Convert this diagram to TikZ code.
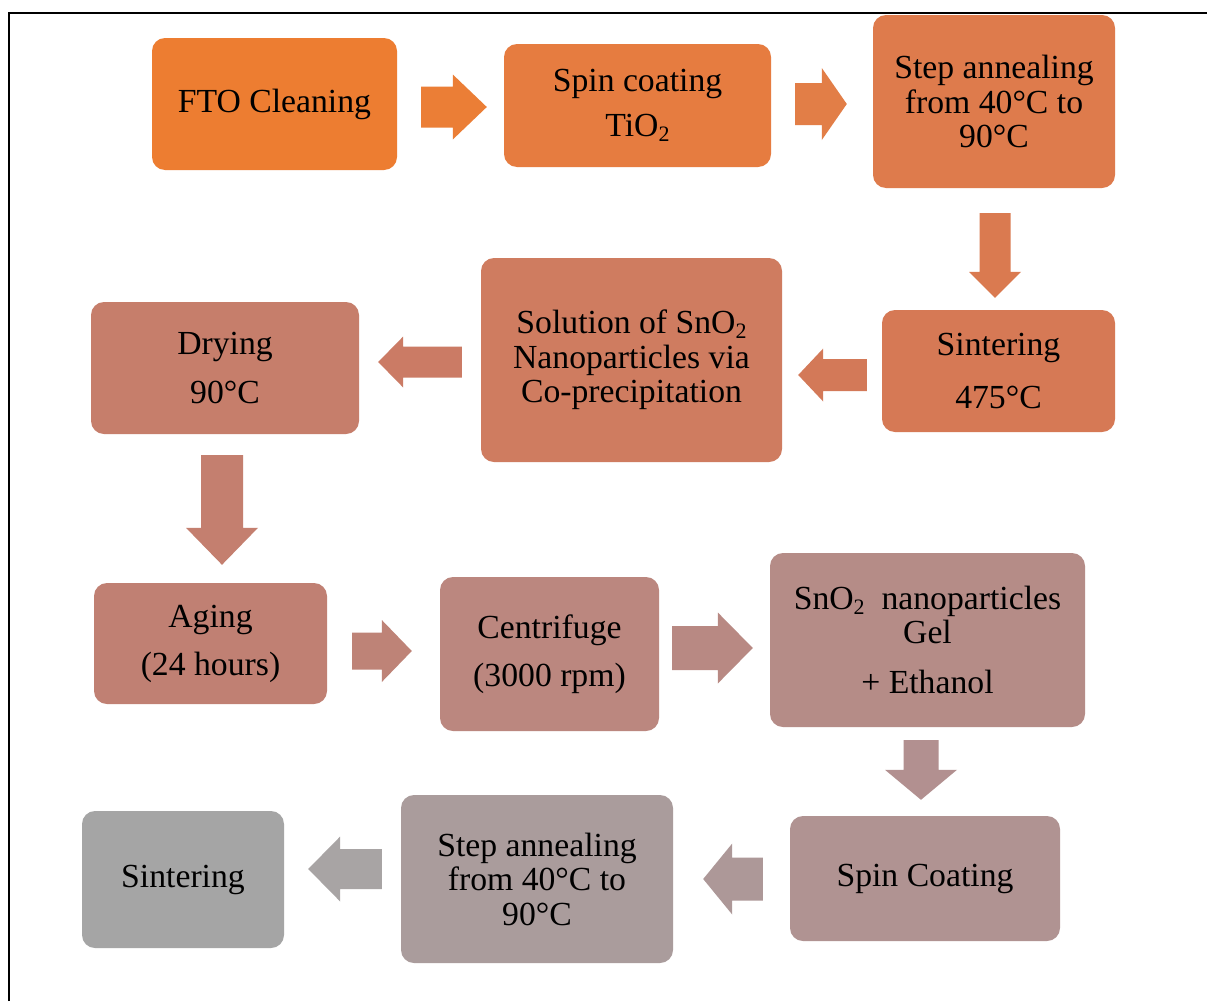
\documentclass[tikz,border=0pt]{standalone}
\usepackage{fontspec}
\setmainfont{Liberation Serif}
\usetikzlibrary{calc}

% step colours, orange fading to grey
\definecolor{c01}{HTML}{ED7D31}
\definecolor{c02}{HTML}{E67C40}
\definecolor{c03}{HTML}{DE7B4C}
\definecolor{c04}{HTML}{D67955}
\definecolor{c05}{HTML}{CF7C60}
\definecolor{c06}{HTML}{C67E6B}
\definecolor{c07}{HTML}{C08073}
\definecolor{c08}{HTML}{BB877F}
\definecolor{c09}{HTML}{B58C87}
\definecolor{c10}{HTML}{B09392}
\definecolor{c11}{HTML}{AA9C9C}
\definecolor{c12}{HTML}{A5A5A5}
% arrow colours
\definecolor{a01}{HTML}{EB7E36}
\definecolor{a02}{HTML}{E27E47}
\definecolor{a03}{HTML}{DA7A50}
\definecolor{a04}{HTML}{D37958}
\definecolor{a05}{HTML}{CB7B65}
\definecolor{a06}{HTML}{C47F6F}
\definecolor{a07}{HTML}{BE8377}
\definecolor{a08}{HTML}{B88983}
\definecolor{a09}{HTML}{B29090}
\definecolor{a10}{HTML}{AD9898}
\definecolor{a11}{HTML}{A8A4A4}

% chemical subscript
\newcommand\chemsubtwo{\raisebox{-0.14em}{\fontsize{22}{22}\selectfont 2}}

% block arrow: tail, tip, half shaft, half head, head length, colour
\newcommand\blockarrow[6]{%
  \coordinate (ba-t) at #1;
  \coordinate (ba-p) at #2;
  \coordinate (ba-h) at ($(ba-p)!#5pt!(ba-t)$);
  \fill[#6] ($(ba-t)!#3pt!90:(ba-p)$) -- ($(ba-h)!#3pt!90:(ba-p)$)
     -- ($(ba-h)!#4pt!90:(ba-p)$) -- (ba-p) -- ($(ba-h)!#4pt!-90:(ba-p)$)
     -- ($(ba-h)!#3pt!-90:(ba-p)$) -- ($(ba-t)!#3pt!-90:(ba-p)$) -- cycle;}

\tikzset{
  stepbox/.style={rounded corners=13pt, inner sep=0pt, align=center,
    font=\fontsize{33.7}{34.5}\selectfont, text=black},
}

\begin{document}
\begin{tikzpicture}[x=1pt,y=-1pt]
\useasboundingbox (0,0) rectangle (1207,1001);
\fill[white] (0,0) rectangle (1207,1001);
\draw[line width=2pt] (9,1001) -- (9,13) -- (1207,13);

% row 1
\node[stepbox, fill=c01, minimum width=245pt, minimum height=132pt] (fto) at (274.5,104) {FTO Cleaning};
\node[stepbox, fill=c02, minimum width=267pt, minimum height=123pt] (spin) at (637.5,105.5) {Spin coating\\[10.5pt]TiO\chemsubtwo};
\node[stepbox, fill=c03, minimum width=242pt, minimum height=173pt] (anneal) at (994,101.5) {Step annealing\\from 40°C to\\90°C};
% row 2
\node[stepbox, fill=c04, minimum width=233pt, minimum height=122pt] (sinter) at (998.5,371) {Sintering\\[18.5pt]475°C};
\node[stepbox, fill=c05, minimum width=301pt, minimum height=204pt] (sol) at (631.5,360) {Solution of SnO\chemsubtwo\\Nanoparticles via\\Co-precipitation};
\node[stepbox, fill=c06, minimum width=268pt, minimum height=132pt] (dry) at (225,368) {Drying\\[14.5pt]90°C};
% row 3
\node[stepbox, fill=c07, minimum width=233pt, minimum height=121pt] (aging) at (210.5,643.5) {Aging\\[13.5pt](24 hours)};
\node[stepbox, fill=c08, minimum width=219pt, minimum height=154pt] (cent) at (549.5,654) {Centrifuge\\[13.5pt](3000 rpm)};
\node[stepbox, fill=c09, minimum width=315pt, minimum height=174pt] (gel) at (927.5,640) {SnO\chemsubtwo\ \ nanoparticles\\Gel\\[15.5pt]+ Ethanol};
% row 4
\node[stepbox, fill=c10, minimum width=270pt, minimum height=125pt] (spinc) at (925,878.5) {Spin Coating};
\node[stepbox, fill=c11, minimum width=272pt, minimum height=168pt] (anneal2) at (537,879) {Step annealing\\from 40°C to\\90°C};
\node[stepbox, fill=c12, minimum width=202pt, minimum height=137pt] (sinter2) at (183,879.5) {Sintering};

% flow arrows
\blockarrow{($(fto.east)+(24,3)$)}{($(spin.west)+(-17,1.5)$)}{20.5}{32.5}{34}{a01}
\blockarrow{($(spin.east)+(24,-1.5)$)}{($(anneal.west)+(-26,2.5)$)}{21}{36}{25}{a02}
\blockarrow{($(anneal.south)+(1,25)$)}{($(sinter.north)+(-3.5,-12)$)}{15.5}{26}{26}{a03}
\blockarrow{($(sinter.west)+(-15,4)$)}{($(sol.east)+(16,15)$)}{16}{26.5}{25}{a04}
\blockarrow{($(sol.west)+(-19,2)$)}{($(dry.east)+(19,-6)$)}{15.5}{25.5}{25}{a05}
\blockarrow{($(dry.south)+(-3,21)$)}{($(aging.north)+(11.5,-18)$)}{21}{36}{37}{a06}
\blockarrow{($(aging.east)+(25,7.5)$)}{($(cent.west)+(-28,-3)$)}{18.5}{31}{30}{a07}
\blockarrow{($(cent.east)+(13,-6)$)}{($(gel.west)+(-17,8)$)}{22}{35.5}{35}{a08}
\blockarrow{($(gel.south)+(-6.5,13)$)}{($(spinc.north)+(-4,-16)$)}{17.5}{36}{30}{a09}
\blockarrow{($(spinc.west)+(-27,0.5)$)}{($(anneal2.east)+(30,0)$)}{21.5}{35.5}{29}{a10}
\blockarrow{($(anneal2.west)+(-19,-10)$)}{($(sinter2.east)+(24,-10.5)$)}{20}{32.5}{32}{a11}
\end{tikzpicture}
\end{document}
